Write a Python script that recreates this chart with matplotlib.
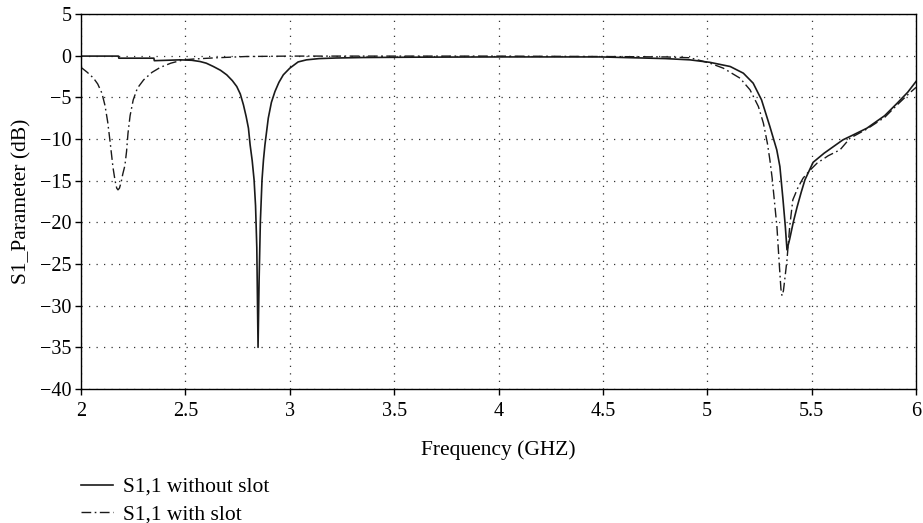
import numpy as np
import matplotlib.pyplot as plt

plt.rcParams['font.family'] = ['Liberation Serif', 'DejaVu Serif']
plt.rcParams['axes.unicode_minus'] = True

# S1,1 without slot
f_noslot = [2.0, 2.179, 2.181, 2.349, 2.351, 2.474, 2.53, 2.57, 2.6, 2.634, 2.668, 2.698,
            2.725, 2.746, 2.763, 2.778, 2.791, 2.802, 2.81, 2.82, 2.829, 2.836, 2.842,
            2.848, 2.853, 2.859, 2.867, 2.874, 2.881, 2.897, 2.912, 2.929, 2.948,
            2.969, 3.0, 3.04, 3.08, 3.14, 3.22, 3.35, 3.6, 4.0, 4.49, 4.8, 4.917,
            5.013, 5.11, 5.173, 5.22, 5.26, 5.3, 5.333, 5.348, 5.363, 5.374, 5.382,
            5.395, 5.412, 5.43, 5.45, 5.468, 5.507, 5.56, 5.65, 5.7, 5.765, 5.85, 5.91,
            5.96, 6.0]
s_noslot = [-0.05, -0.05, -0.3, -0.3, -0.6, -0.5, -0.55, -0.7, -0.9, -1.3, -1.75, -2.3,
            -3.0, -3.7, -4.6, -5.9, -7.3, -8.7, -10.7, -12.6, -14.9, -18.0, -23.0,
            -35.0, -27.0, -20.0, -14.9, -12.5, -10.7, -7.5, -5.6, -4.3, -3.2, -2.3,
            -1.5, -0.75, -0.5, -0.35, -0.28, -0.22, -0.18, -0.15, -0.15, -0.35, -0.5,
            -0.8, -1.3, -2.1, -3.3, -5.3, -8.5, -11.3, -13.3, -17.3, -20.5, -23.3,
            -22.0, -20.0, -18.2, -16.4, -14.9, -12.8, -11.7, -10.1, -9.5, -8.7, -7.2,
            -5.7, -4.4, -3.1]

# S1,1 with slot
f_slot = [2.0, 2.03, 2.06, 2.08, 2.1, 2.115, 2.128, 2.14, 2.153, 2.163, 2.171, 2.177,
          2.184, 2.192, 2.2, 2.21, 2.218, 2.225, 2.235, 2.25, 2.27, 2.3, 2.34, 2.38,
          2.43, 2.49, 2.54, 2.65, 2.79, 3.0, 3.5, 4.0, 4.5, 4.8, 4.917, 5.013, 5.077,
          5.157, 5.205, 5.245, 5.269, 5.288, 5.3, 5.311, 5.322, 5.334, 5.345, 5.353,
          5.358, 5.365, 5.373, 5.382, 5.395, 5.41, 5.435, 5.459, 5.49, 5.526, 5.58,
          5.636, 5.684, 5.765, 5.85, 5.91, 5.96, 6.0]
s_slot = [-1.4, -2.0, -2.7, -3.4, -4.5, -6.0, -8.0, -10.5, -13.4, -15.0, -15.9, -16.1,
          -15.9, -15.2, -14.2, -13.2, -11.5, -9.3, -7.2, -5.3, -3.9, -2.9, -2.0, -1.4,
          -0.9, -0.5, -0.4, -0.25, -0.1, -0.05, -0.05, -0.05, -0.1, -0.15, -0.25,
          -0.9, -1.5, -2.7, -4.1, -6.1, -8.1, -10.5, -12.5, -14.7, -17.5, -20.6,
          -25.0, -28.0, -28.8, -28.2, -26.5, -24.5, -20.5, -17.3, -15.8, -14.7, -13.8,
          -12.9, -12.0, -11.3, -9.9, -8.8, -7.4, -5.9, -4.7, -3.8]

fig = plt.figure(figsize=(9.23, 5.23), dpi=100)
ax = fig.add_axes([0.0878, 0.2562, 0.9046, 0.717])

ax.plot(f_noslot, s_noslot, color='#1a1a1a', lw=1.2, linestyle='-', label='S1,1 without slot')
ax.plot(f_slot, s_slot, color='#1a1a1a', lw=1.0, linestyle=(0, (7, 2.5, 1.2, 2.5)),
        label='S1,1 with slot')

ax.set_xlim(2, 6)
ax.set_ylim(-40, 5)
ax.set_xticks(np.arange(2, 6.01, 0.5))
ax.set_xticklabels(['2', '2.5', '3', '3.5', '4', '4.5', '5', '5.5', '6'])
ax.set_yticks(np.arange(-40, 5.1, 5))
ax.grid(True, color='#333333', linestyle=(0, (1, 5)), lw=0.9)
ax.tick_params(direction='out', length=4, width=1, labelsize=14.5, color='black')
ax.tick_params(axis='x', pad=5)
ax.tick_params(axis='y', pad=3)
for sp in ax.spines.values():
    sp.set_linewidth(1.0)

ax.set_xlabel('Frequency (GHZ)', fontsize=15.5, labelpad=14)
ax.set_ylabel('S1_Parameter (dB)', fontsize=15.5, labelpad=6)

fig.legend(loc='upper left', bbox_to_anchor=(0.0878, 0.088), frameon=False, fontsize=15.5,
           handlelength=1.5, handletextpad=0.45, labelspacing=0.35,
           borderpad=0, borderaxespad=0)

fig.savefig('out.png', dpi=100)
